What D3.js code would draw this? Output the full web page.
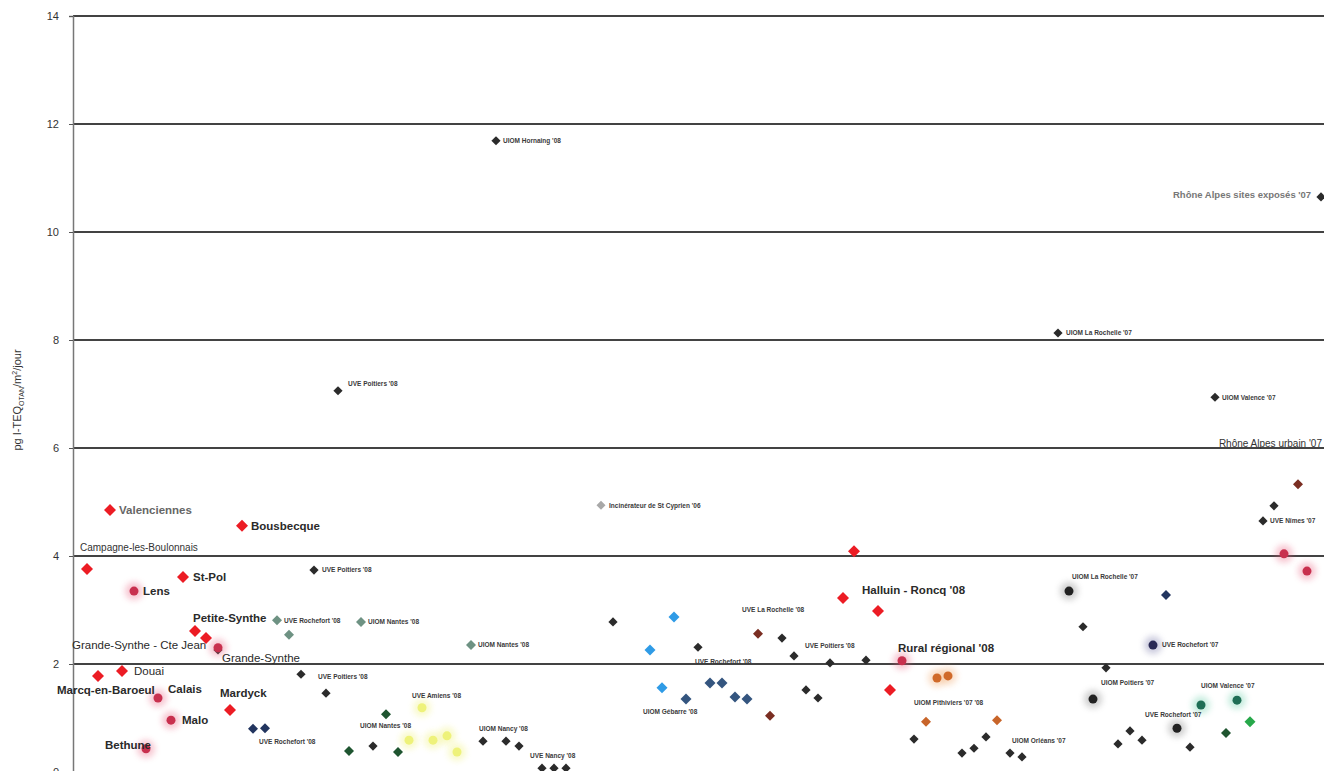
<!DOCTYPE html>
<html><head><meta charset="utf-8">
<script src="https://cdn.jsdelivr.net/npm/d3@7"></script>
<style>
html,body{margin:0;padding:0;background:#fff;}
svg{display:block;font-family:"Liberation Sans",Arial,sans-serif;}
</style></head>
<body>
<svg id="c" width="1324" height="771"></svg>
<script>
// ---- Data (x = sample position along campaign order, y = pg I-TEQ/m²/jour) ----
const yTicks = [0, 2, 4, 6, 8, 10, 12, 14];

const redSites = [[3.7,4.85],[16.9,4.56],[1.4,3.76],[11.0,3.61],[12.2,2.61],[13.3,2.48],[4.9,1.87],[2.5,1.78],[15.7,1.15],
  [78.1,4.09],[77.0,3.22],[80.5,2.98],[81.7,1.52]];
const pinkSites = [[6.1,3.35],[14.5,2.30],[8.5,1.37],[9.8,0.96],[7.3,0.43],[82.9,2.06],[121.1,4.04],[123.4,3.72]];
const darkPoints = [[42.3,11.69],[26.5,7.06],[98.5,8.13],[114.2,6.94],[124.8,10.65],[24.1,3.74],[22.8,1.81],[25.3,1.46],
  [30.0,0.48],[41.0,0.57],[43.3,0.57],[44.6,0.48],[46.9,0.07],[48.1,0.07],[49.3,0.07],[54.0,2.78],[62.5,2.31],
  [70.9,2.48],[72.1,2.15],[73.3,1.52],[74.5,1.37],[75.7,2.02],[79.3,2.07],[84.1,0.61],[88.9,0.35],[90.1,0.44],
  [91.3,0.65],[93.7,0.35],[94.9,0.28],[101.0,2.69],[103.3,1.93],[104.5,0.52],[105.7,0.76],[106.9,0.59],[111.7,0.46],
  [120.1,4.93],[119.0,4.65],[14.5,2.26]];
const darkFuzzy = [[99.6,3.35],[102.0,1.35],[110.4,0.81]];
const navyPoints = [[18.0,0.80],[19.2,0.81],[109.3,3.28]];
const navyFuzzy = [[108.0,2.35]];
const grayGreen = [[20.4,2.81],[21.6,2.54],[28.8,2.78],[39.8,2.35]];
const lightGray = [[52.8,4.94]];
const darkGreen = [[27.6,0.39],[32.5,0.37],[31.3,1.07],[115.3,0.72]];
const brightGreen = [[117.7,0.93]];
const tealFuzzy = [[112.8,1.24],[116.4,1.33]];
const yellowFuzzy = [[34.9,1.19],[33.6,0.59],[36.0,0.59],[37.4,0.67],[38.4,0.37]];
const bluePoints = [[60.1,2.87],[57.7,2.26],[58.9,1.56]];
const steelPoints = [[61.3,1.35],[63.7,1.65],[64.9,1.65],[66.2,1.39],[67.4,1.35]];
const brownPoints = [[68.5,2.56],[69.7,1.04],[122.5,5.33]];
const orangeFuzzy = [[86.4,1.74],[87.5,1.78]];
const orangePoints = [[85.3,0.93],[92.4,0.96]];

// Big site labels: [text, x, y, bold]
const bigLabels = [
  ["Valenciennes",4.6,4.85,1],["Bousbecque",17.8,4.56,1],["St-Pol",12.0,3.61,1],["Lens",7.0,3.35,1],
  ["Petite-Synthe",12.0,2.85,1],["Grande-Synthe - Cte Jean",-0.1,2.35,0],["Grande-Synthe",14.9,2.11,0],
  ["Douai",6.1,1.87,0],["Marcq-en-Baroeul",-1.6,1.52,1],["Calais",9.5,1.54,1],["Malo",10.9,0.96,1],
  ["Mardyck",14.7,1.46,1],["Bethune",3.2,0.50,1],["Halluin - Roncq '08",78.9,3.37,1],["Rural régional '08",82.5,2.30,1]
];
const mediumLabels = [
  ["Campagne-les-Boulonnais",0.7,4.15],["Rhône Alpes sites exposés '07",110.0,10.69]
];
const smallLabels = [
  ["UIOM Hornaing '08",43.0,11.69],["UVE Poitiers '08",27.5,7.19],["UIOM La Rochelle '07",99.3,8.13],
  ["UIOM Valence '07",114.9,6.94],["Incinérateur de St Cyprien '06",53.6,4.94],["UVE Poitiers '08",24.9,3.74],
  ["UVE Rochefort '08",21.1,2.80],["UIOM Nantes '08",29.5,2.78],["UIOM Nantes '08",40.5,2.35],
  ["UVE Poitiers '08",24.5,1.76],["UVE Rochefort '08",18.6,0.56],["UVE Amiens '08",33.9,1.41],
  ["UIOM Nantes '08",28.7,0.85],["UIOM Nancy '08",40.6,0.81],["UVE Nancy '08",45.7,0.30],
  ["UVE La Rochelle '08",66.9,3.00],["UVE Rochefort '08",62.2,2.04],["UIOM Gébarre '08",57.0,1.11],
  ["UVE Poitiers '08",73.2,2.33],["UIOM Pithiviers '07 '08",84.1,1.28],["UIOM Orléans '07",93.9,0.57],
  ["UIOM La Rochelle '07",99.9,3.61],["UVE Rochefort '07",108.9,2.35],["UIOM Poitiers '07",102.8,1.65],
  ["UIOM Valence '07",112.8,1.59],["UVE Rochefort '07",107.2,1.06],["UVE Nîmes '07",119.7,4.65]
];
const endLabels = [["Rhône Alpes urbain '07",124.9,6.09]];

// ---- Drawing ----
const svg = d3.select("#c");
const x = d3.scaleLinear().domain([0,125]).range([73,1323]);
const y = d3.scaleLinear().domain([0,14]).range([772,16]);

const defs = svg.append("defs");
const f = defs.append("filter").attr("id","blur").attr("x","-100%").attr("y","-100%").attr("width","300%").attr("height","300%");
f.append("feGaussianBlur").attr("stdDeviation",3);

// gridlines
svg.append("g").selectAll("line").data(yTicks.filter(d=>d>0)).join("line")
  .attr("x1",x(0)).attr("x2",1324).attr("y1",d=>y(d)).attr("y2",d=>y(d))
  .attr("stroke","#222").attr("stroke-width",1.8).attr("stroke-opacity",0.85);

// y axis
const yAxis = d3.axisLeft(y).tickValues(yTicks).tickSize(4).tickPadding(10).tickFormat(d3.format("d"));
const ga = svg.append("g").attr("transform",`translate(${x(0)},0)`).call(yAxis);
ga.select(".domain").attr("stroke","#777").attr("stroke-width",1.5);
ga.selectAll(".tick line").attr("stroke","#555");
ga.selectAll(".tick text").attr("fill","#333").attr("font-size",11).attr("font-family","Liberation Sans, Arial, sans-serif");

// y label
const yl = svg.append("text").attr("transform","translate(21,400) rotate(-90)")
  .attr("text-anchor","middle").attr("font-size",11).attr("fill","#333");
yl.append("tspan").text("pg I-TEQ");
yl.append("tspan").text("OTAN").attr("font-size",7).attr("dy",3);
yl.append("tspan").text("/m").attr("dy",-3);
yl.append("tspan").text("2").attr("font-size",7).attr("dy",-4);
yl.append("tspan").text("/jour").attr("dy",4);

function diamondPath(r){ return `M0,${-r}L${r},0L0,${r}L${-r},0Z`; }
function diamonds(data,color,r){
  svg.append("g").selectAll("path").data(data).join("path")
    .attr("d",diamondPath(r)).attr("fill",color)
    .attr("transform",d=>`translate(${x(d[0])},${y(d[1])})`);
}
function fuzzy(data,color,core){
  const g = svg.append("g");
  g.selectAll("circle.h").data(data).join("circle").attr("class","h")
    .attr("cx",d=>x(d[0])).attr("cy",d=>y(d[1])).attr("r",9).attr("fill",color).attr("opacity",0.35).attr("filter","url(#blur)");
  g.selectAll("circle.c").data(data).join("circle").attr("class","c")
    .attr("cx",d=>x(d[0])).attr("cy",d=>y(d[1])).attr("r",4.5).attr("fill",core||color);
}

diamonds(lightGray,"#a8a8a8",4.5);
fuzzy(yellowFuzzy,"#eef06a","#eef27a");
diamonds(grayGreen,"#6e9283",5);
diamonds(darkPoints,"#2b2b2b",4.6);
diamonds(navyPoints,"#22355f",5);
diamonds(darkGreen,"#1f5530",5);
diamonds(brightGreen,"#27a84a",5.5);
diamonds(bluePoints,"#2f9be6",5.5);
diamonds(steelPoints,"#34557f",5.5);
diamonds(brownPoints,"#7a2e22",5);
diamonds(orangePoints,"#c8652a",5);
diamonds(redSites,"#ec1c24",6);
fuzzy(pinkSites,"#e85a7a","#c8304e");
fuzzy(darkFuzzy,"#777","#222");
fuzzy(navyFuzzy,"#6a6aa0","#2a2a55");
fuzzy(tealFuzzy,"#5ac9a0","#1f6e55");
fuzzy(orangeFuzzy,"#f0a060","#d06a2a");

// labels
svg.append("g").selectAll("text").data(bigLabels).join("text")
  .attr("x",d=>x(d[1])).attr("y",d=>y(d[2])).attr("dy","0.35em")
  .attr("font-size",11.5).attr("font-weight",d=>d[3]?"bold":"normal").attr("fill",(d,i)=>i===0?"#666":"#2a2a2a").text(d=>d[0]);
svg.append("g").selectAll("text").data(mediumLabels).join("text")
  .attr("x",d=>x(d[1])).attr("y",d=>y(d[2])).attr("dy","0.35em")
  .attr("font-size",(d,i)=>i===1?9.5:10).attr("fill",(d,i)=>i===1?"#777":"#333").attr("font-weight",(d,i)=>i===1?"bold":"normal").text(d=>d[0]);
svg.append("g").selectAll("text").data(endLabels).join("text")
  .attr("x",d=>x(d[1])).attr("y",d=>y(d[2])).attr("dy","0.35em").attr("text-anchor","end")
  .attr("font-size",10).attr("fill","#333").text(d=>d[0]);
svg.append("g").selectAll("text").data(smallLabels).join("text")
  .attr("x",d=>x(d[1])).attr("y",d=>y(d[2])).attr("dy","0.35em")
  .attr("font-size",6.5).attr("font-weight","bold").attr("fill","#3a3a3a").text(d=>d[0]);
</script>
</body></html>
